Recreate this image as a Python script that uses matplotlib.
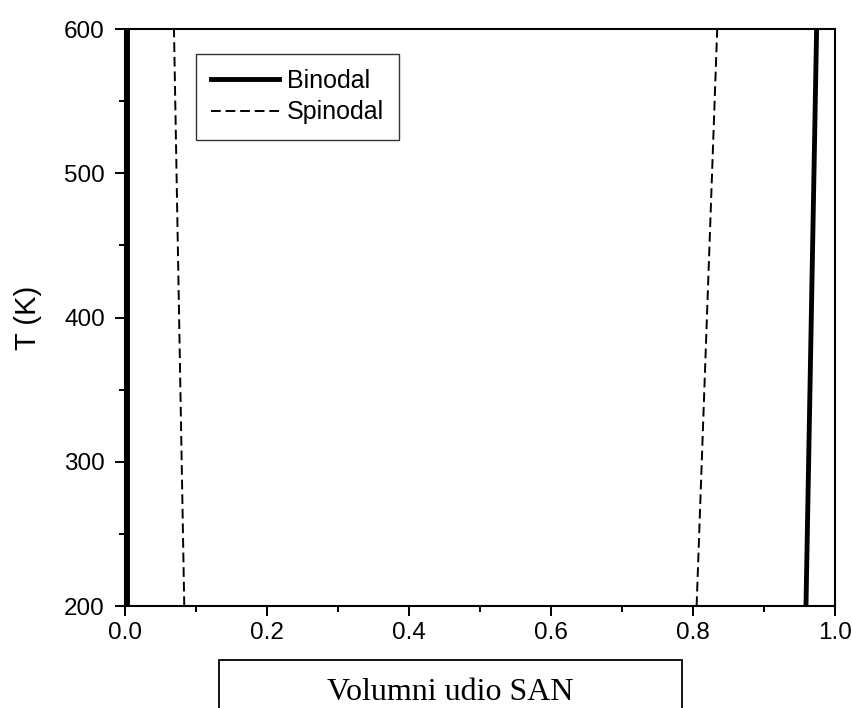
"""Binodal and spinodal curves of the blend, T versus volume fraction of SAN."""

import matplotlib
matplotlib.use("Agg")
import matplotlib.pyplot as plt
from matplotlib.patches import Rectangle
from matplotlib.ticker import MultipleLocator

plt.rcParams["font.family"] = ["Liberation Sans", "DejaVu Sans"]

# temperatures (K) at which the curves were read
temps = [200, 600]

# binodal branches (volume fraction SAN)
binodal_left = [0.003, 0.003]
binodal_right = [0.959, 0.974]

# spinodal branches
spinodal_left = [0.0835, 0.069]
spinodal_right = [0.805, 0.834]

fig = plt.figure(figsize=(8.53, 7.08), dpi=100)
ax = fig.add_axes([0.1465, 0.144, 0.8325, 0.815])

ax.plot(binodal_left, temps, color="black", lw=3.5, label="Binodal")
ax.plot(binodal_right, temps, color="black", lw=3.5)
ax.plot(spinodal_left, temps, color="black", lw=1.4, dashes=(5, 2.5), label="Spinodal")
ax.plot(spinodal_right, temps, color="black", lw=1.4, dashes=(5, 2.5))

ax.set_xlim(0, 1.0)
ax.set_ylim(200, 600)
ax.xaxis.set_major_locator(MultipleLocator(0.2))
ax.xaxis.set_minor_locator(MultipleLocator(0.1))
ax.yaxis.set_major_locator(MultipleLocator(100))
ax.yaxis.set_minor_locator(MultipleLocator(50))
ax.xaxis.set_major_formatter(lambda v, pos: f"{v:.1f}")

for s in ax.spines.values():
    s.set_linewidth(1.5)
ax.tick_params(which="major", direction="out", length=7.5, width=1.4, labelsize=17.5, pad=4)
ax.tick_params(axis="y", which="major", pad=7)
ax.tick_params(which="minor", direction="out", length=4, width=1.4)
ax.set_ylabel("T (K)", fontsize=21, labelpad=16)

leg = ax.legend(loc="upper left", bbox_to_anchor=(196 / 853, 1 - 54 / 708),
                bbox_transform=fig.transFigure, fontsize=18, frameon=True,
                fancybox=False, handlelength=2.7, handletextpad=0.35,
                borderpad=0.6, labelspacing=0.3, borderaxespad=0)
leg.get_frame().set_edgecolor("black")
leg.get_frame().set_linewidth(1.0)

# boxed x-axis caption below the plot
fig.add_artist(Rectangle((219 / 853, -0.05), 463 / 853, 1 - 660 / 708 + 0.05,
                         transform=fig.transFigure, fill=False, lw=1.3,
                         edgecolor="black", clip_on=False))
fig.text(450 / 853, 1 - 700 / 708, "Volumni udio SAN", ha="center", va="baseline",
         family="Liberation Serif", fontsize=23)

fig.savefig("out.png", dpi=100)
